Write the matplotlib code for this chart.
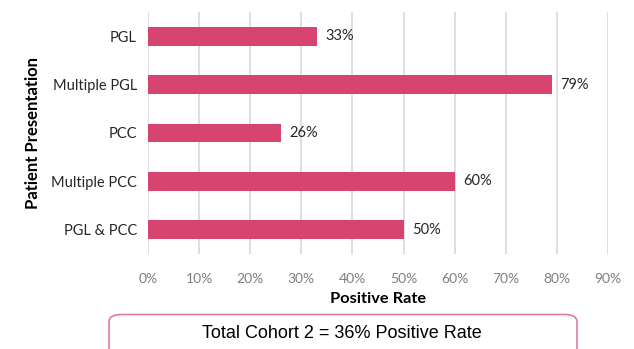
import matplotlib
matplotlib.use("Agg")
import matplotlib.pyplot as plt
from matplotlib.patches import FancyBboxPatch

categories = ["PGL", "Multiple PGL", "PCC", "Multiple PCC", "PGL & PCC"]
values = [33, 79, 26, 60, 50]
xticks = [0, 10, 20, 30, 40, 50, 60, 70, 80, 90]
xticklabels = [f"{t}%" for t in xticks]

W, H = 634, 349
dpi = 100
fig = plt.figure(figsize=(W / dpi, H / dpi), dpi=dpi)
fig.patch.set_facecolor("white")

ax = fig.add_axes([148 / W, 1 - 254 / H, 460 / W, (254 - 12) / H])
ypos = list(range(len(categories)))
ax.barh(ypos, values, height=0.39, color="#d6446f", zorder=3)
ax.set_ylim(len(categories) - 0.5, -0.5)
ax.set_xlim(0, 90)
ax.set_xticks(xticks)
ax.set_xticklabels(xticklabels, fontsize=10, color="#7f7f7f", family="Lato")
ax.set_yticks(ypos)
ax.set_yticklabels(categories, fontsize=10.5, color="#262626", family="Lato")
ax.tick_params(axis="both", length=0)
ax.tick_params(axis="x", pad=14)
ax.tick_params(axis="y", pad=8)
for s in ax.spines.values():
    s.set_visible(False)
ax.grid(axis="x", color="#d9d9d9", linewidth=1.2, zorder=0)
ax.set_axisbelow(True)

for y, v in zip(ypos, values):
    ax.text(v + 1.7, y, f"{v}%", va="center", ha="left", fontsize=10.5,
            color="#262626", family="Lato")

ax.set_xlabel("Positive Rate", fontsize=11.8, fontweight="bold", family="Lato",
              color="#000000", labelpad=5)
ax.set_ylabel("Patient Presentation", fontsize=12, fontweight="bold", family="Lato",
              color="#000000", labelpad=7)

box = FancyBboxPatch((109 / W, -0.2), (577 - 109) / W, (0.2 + 1 - 314.5 / H),
                     boxstyle="round,pad=0,rounding_size=0.02",
                     transform=fig.transFigure, facecolor="white",
                     edgecolor="#e07a9e", linewidth=1.2, clip_on=False)
fig.patches.append(box)
fig.text(342 / W, 1 - 333 / H, "Total Cohort 2 = 36% Positive Rate",
         ha="center", va="center", fontsize=13, family="Liberation Sans",
         color="#000000")

fig.savefig("out.png", dpi=dpi, facecolor="white")
